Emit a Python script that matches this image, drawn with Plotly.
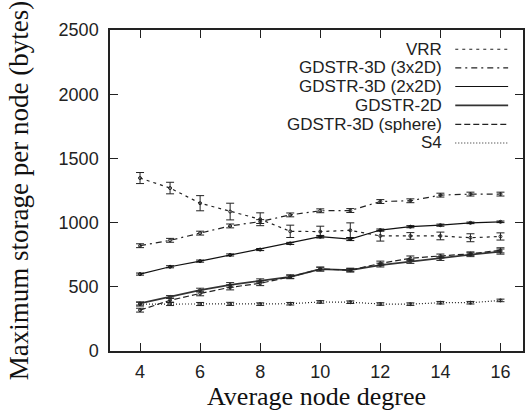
import plotly.graph_objects as go

degree = [4, 5, 6, 7, 8, 9, 10, 11, 12, 13, 14, 15, 16]

vrr = [1347, 1269, 1151, 1086, 1026, 932, 930, 940, 896, 896, 896, 882, 892]
vrr_err = [43, 45, 59, 65, 50, 48, 42, 58, 40, 26, 30, 31, 28]

gd3x2 = [820, 862, 918, 974, 1008, 1060, 1092, 1094, 1164, 1170, 1214, 1222, 1222]
gd3x2_err = [15, 15, 15, 15, 15, 15, 15, 15, 15, 15, 15, 15, 15]

gd2x2 = [599, 656, 700, 748, 790, 838, 890, 872, 942, 968, 980, 998, 1006]
gd2x2_err = [8, 8, 8, 8, 8, 8, 10, 12, 8, 8, 8, 6, 6]

gd2d = [370, 422, 474, 515, 547, 578, 638, 630, 669, 697, 720, 750, 774]
gd2d_err = [12, 10, 15, 18, 15, 12, 15, 12, 15, 15, 15, 15, 20]

sphere = [318, 395, 448, 496, 527, 578, 638, 630, 682, 722, 740, 757, 784]
sphere_err = [15, 15, 18, 20, 18, 15, 15, 15, 18, 18, 15, 15, 20]

s4 = [365, 366, 366, 367, 365, 368, 382, 380, 366, 365, 376, 376, 394]
s4_err = [15, 12, 12, 12, 10, 10, 10, 10, 10, 10, 10, 10, 10]

names = ["VRR", "GDSTR-3D (3x2D)", "GDSTR-3D (2x2D)", "GDSTR-2D",
         "GDSTR-3D (sphere)", "S4"]
values = [vrr, gd3x2, gd2x2, gd2d, sphere, s4]
errors = [vrr_err, gd3x2_err, gd2x2_err, gd2d_err, sphere_err, s4_err]
dashes = ["3px,4px", "6px,4px,2px,4px", "solid", "solid", "6px,3px", "1px,2px"]
widths = [1.2, 1.2, 1.2, 1.8, 1.2, 1.2]
colors = ["#222", "#222", "#111", "#333", "#222", "#222"]

fig = go.Figure()
for n, v, e, d, w, c in zip(names, values, errors, dashes, widths, colors):
    fig.add_trace(go.Scatter(
        x=degree, y=v, mode="lines+markers", name=n,
        line=dict(color=c, width=w, dash=d),
        marker=dict(size=3, color=c, symbol="circle-open"),
        error_y=dict(type="data", array=e, visible=True, color=c,
                     thickness=1, width=4),
        showlegend=False,
    ))

# gnuplot-style legend: right-aligned text with sample line to its right
row_y = [0.940, 0.882, 0.824, 0.765, 0.706, 0.648]
for n, d, w, c, yy in zip(names, dashes, widths, colors, row_y):
    fig.add_annotation(x=0.807, y=yy, xref="paper", yref="paper",
                       text=n, showarrow=False, xanchor="right",
                       yanchor="middle", borderpad=0,
                       font=dict(family="Liberation Sans", size=17,
                                 color="#222"))
    fig.add_shape(type="line", xref="paper", yref="paper",
                  x0=0.836, x1=0.964, y0=yy, y1=yy,
                  line=dict(color=c, width=w, dash=d))

axis_common = dict(
    showline=True, linecolor="#222", linewidth=1.5, mirror="allticks",
    ticks="inside", ticklen=8, tickwidth=1, tickcolor="#222",
    showgrid=False, zeroline=False,
    tickfont=dict(family="Liberation Sans", size=18, color="#222"),
)

fig.update_layout(
    width=530, height=413,
    margin=dict(l=110, r=5, t=30, b=62),
    paper_bgcolor="white", plot_bgcolor="white",
    xaxis=dict(range=[3, 16.75], tickvals=[4, 6, 8, 10, 12, 14, 16],
               ticklabelstandoff=4,
               title=dict(text="Average node degree", standoff=0,
                          font=dict(family="Liberation Serif", size=26,
                                    color="#111")),
               **axis_common),
    yaxis=dict(range=[0, 2500], tickvals=[0, 500, 1000, 1500, 2000, 2500],
               ticklabelstandoff=6,
               title=dict(text="Maximum storage per node (bytes)", standoff=22,
                          font=dict(family="Liberation Serif", size=27,
                                    color="#111")),
               **axis_common),
)

fig.write_html("out.html",
               config={"displayModeBar": False},
               post_script="document.body.style.margin='0';"
                           "document.body.style.overflow='hidden';")
